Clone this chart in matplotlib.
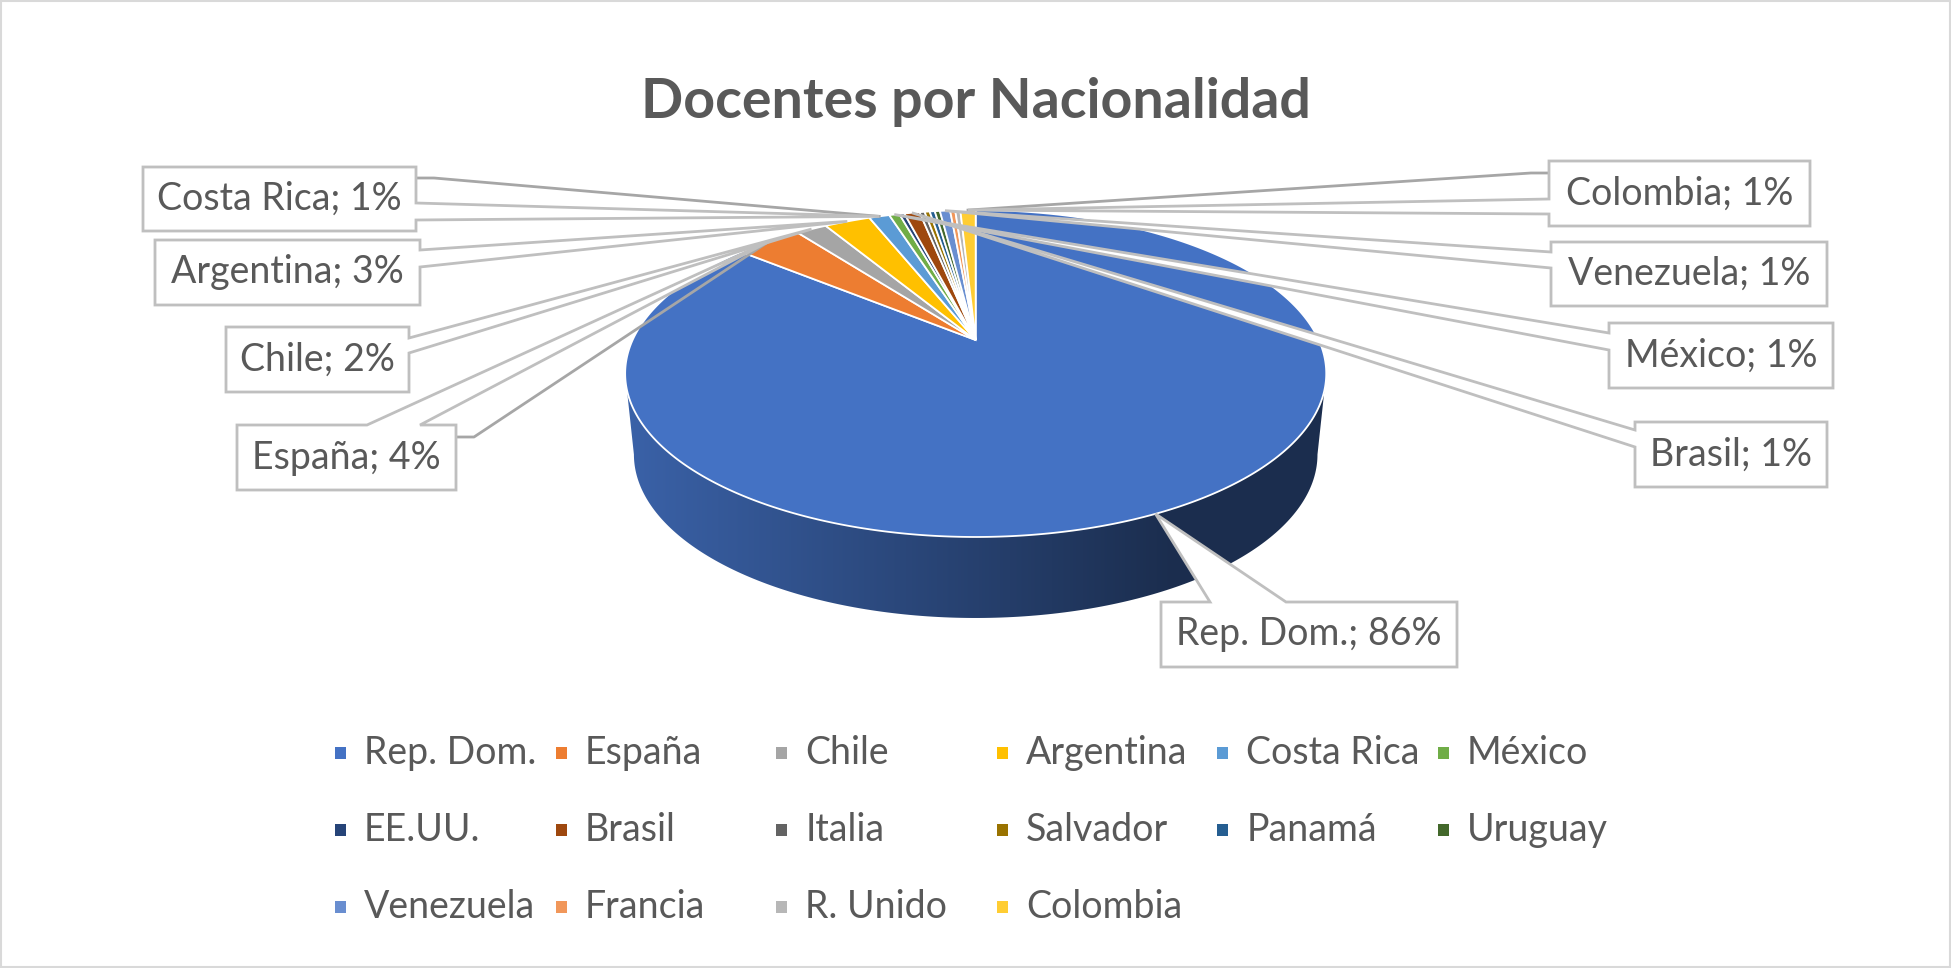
import matplotlib
matplotlib.use("Agg")
import matplotlib.pyplot as plt
import numpy as np
from matplotlib.patches import Polygon, Rectangle
from matplotlib.colors import to_rgb

plt.rcParams['font.family'] = ['Lato', 'DejaVu Sans']

# --- data ---
countries = ["Rep. Dom.", "España", "Chile", "Argentina", "Costa Rica", "México",
             "EE.UU.", "Brasil", "Italia", "Salvador", "Panamá", "Uruguay",
             "Venezuela", "Francia", "R. Unido", "Colombia"]
docentes = [300, 13, 6, 9, 4, 2, 1, 3, 1, 1, 1, 1, 2, 1, 1, 3]
colors = ["#4472C4", "#ED7D31", "#A5A5A5", "#FFC000", "#5B9BD5", "#70AD47",
          "#264478", "#9E480E", "#636363", "#997300", "#255E91", "#43682B",
          "#698ED0", "#F1975A", "#B7B7B7", "#FFCD33"]
title = "Docentes por Nacionalidad"

# --- layout (pixel space of a 1951x968 canvas) ---
W, H = 1951, 968
CX, APEX_Y = 975.7, 340.0        # projected centre of the pie
A, B, K = 343.1, 156.6, 0.205    # radii + perspective factor
DEPTH, BOT_SCALE = 81.0, 0.975
TEXT_C = "#595959"
BOX_C = "#BFBFBF"
LEADER_C = "#A6A6A6"

# callout boxes: (x0, y0, x1, y1), side where the pointer leaves, pointer base
callouts = {
    "Costa Rica": ((143, 167, 416, 231), "right", (203, 220), 178),
    "Argentina":  ((155, 240, 420, 305), "right", (250, 267), None),
    "Chile":      ((226, 327, 409, 392), "right", (338, 353), None),
    "España":     ((237, 425, 456, 490), "top", (367, 420), 437),
    "Rep. Dom.":  ((1161, 602, 1457, 667), "top", (1210, 1286), None),
    "Colombia":   ((1549, 161, 1810, 226), "left", (199, 214), 173),
    "Venezuela":  ((1551, 242, 1827, 306), "left", (252, 268), None),
    "México":     ((1609, 323, 1833, 388), "left", (333, 350), None),
    "Brasil":     ((1635, 422, 1827, 487), "left", (430, 447), None),
}


def top_point(phi):
    s, c = np.sin(phi), np.cos(phi)
    d = 1 + K * c
    return CX + A * s / d, APEX_Y - B * c / d


def bottom_point(phi):
    x, y = top_point(phi)
    return CX + (x - CX) * BOT_SCALE, y + DEPTH


fig = plt.figure(figsize=(W / 100, H / 100), dpi=100)
ax = fig.add_axes([0, 0, 1, 1])
ax.axis('off')

vals = np.array(docentes, dtype=float)
total = vals.sum()
ends = np.cumsum(vals) / total * 2 * np.pi
starts = np.concatenate([[0], ends[:-1]])

# --- side wall (front half only) ---
phi_r = np.arccos(-K)
phi_l = 2 * np.pi - phi_r
for st, en, col in zip(starts, ends, colors):
    a0, a1 = max(st, phi_r), min(en, phi_l)
    if a1 <= a0:
        continue
    ph = np.linspace(a0, a1, 200)
    tx, ty = top_point(ph)
    bx, by = bottom_point(ph)
    xs = np.concatenate([tx, bx[::-1]])
    ys = np.concatenate([ty, by[::-1]])
    side = Polygon(np.column_stack([xs, ys]), closed=True, facecolor='none',
                   edgecolor='none', zorder=1)
    ax.add_patch(side)
    gx = np.linspace(xs.min(), xs.max(), 400)
    fac = np.interp((gx - CX) / A, [-1.03, 0.57, 1.03], [0.86, 0.40, 0.40])
    img = (np.array(to_rgb(col))[None, :] * fac[:, None])[None, :, :]
    im = ax.imshow(img, extent=(xs.min(), xs.max(), ys.max(), ys.min()),
                   aspect='auto', zorder=1, interpolation='bilinear')
    im.set_clip_path(side)

# --- top face slices ---
for st, en, col in zip(starts, ends, colors):
    ph = np.linspace(st, en, max(3, int((en - st) * 120)))
    tx, ty = top_point(ph)
    pts = np.column_stack([np.concatenate([[CX], tx]), np.concatenate([[APEX_Y], ty])])
    ax.add_patch(Polygon(pts, closed=True, facecolor=col, edgecolor='white',
                         linewidth=1.3, joinstyle='miter', zorder=2))

# --- callouts ---
for name, (box, side, base, leader_y) in callouts.items():
    i = countries.index(name)
    tip = top_point((starts[i] + ends[i]) / 2)
    x0, y0, x1, y1 = box
    if side == "right":
        pts = [(x0, y0), (x1, y0), (x1, base[0]), tip, (x1, base[1]), (x1, y1), (x0, y1)]
    elif side == "left":
        pts = [(x0, y0), (x1, y0), (x1, y1), (x0, y1), (x0, base[1]), tip, (x0, base[0])]
    else:
        pts = [(x0, y0), (base[0], y0), tip, (base[1], y0), (x1, y0), (x1, y1), (x0, y1)]
    if leader_y is not None:
        if side == "left":
            lx = [x0, x0 - 18, tip[0]]
        else:
            lx = [x1, x1 + 18, tip[0]]
        ax.plot(lx, [leader_y, leader_y, tip[1]], color=LEADER_C, lw=2.0, zorder=3)
    ax.add_patch(Polygon(pts, closed=True, facecolor='white', edgecolor=BOX_C,
                         linewidth=2.0, joinstyle='miter', zorder=4))
    pct = int(np.floor(vals[i] / total * 100 + 0.5))
    ax.text((x0 + x1) / 2, (y0 + y1) / 2, f"{name}; {pct}%", ha='center', va='center',
            fontsize=27, color=TEXT_C, zorder=5)

# --- title ---
ax.text(W / 2, 118, title, ha='center', va='baseline', fontsize=40,
        fontweight='bold', color=TEXT_C)

# --- legend (row-wise, 6 per row) ---
for i, (name, col) in enumerate(zip(countries, colors)):
    r, c = divmod(i, 6)
    lx = 335 + c * 220.6
    ly = 753 + r * 77
    ax.add_patch(Rectangle((lx, ly - 6), 11, 12, facecolor=col, edgecolor='none'))
    ax.text(lx + 29, ly, name, ha='left', va='center', fontsize=27, color=TEXT_C)

# chart frame
ax.add_patch(Rectangle((1, 1), W - 2, H - 2, facecolor='none', edgecolor='#D9D9D9',
                       linewidth=1.5, zorder=6))

ax.set_xlim(0, W)
ax.set_ylim(H, 0)
fig.savefig("out.png", dpi=100)
